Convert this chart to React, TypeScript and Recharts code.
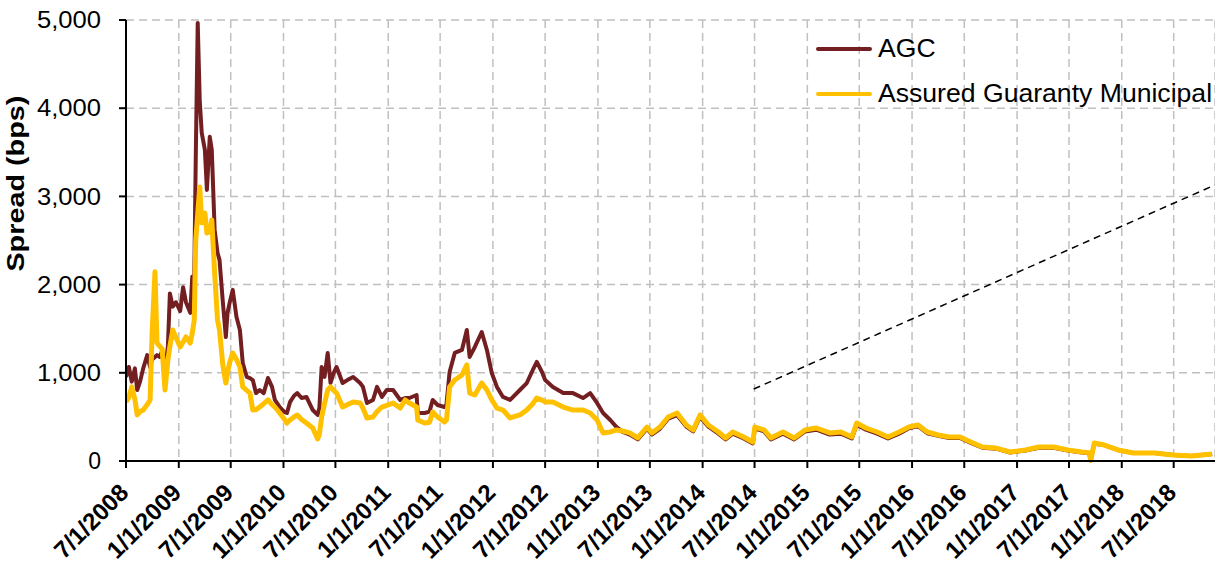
import React from 'react';
import { LineChart, Line, XAxis, YAxis, CartesianGrid, ReferenceLine } from 'recharts';

const dates = [
  '2008-07-01','2008-07-11','2008-07-21','2008-08-01','2008-08-09','2008-08-19','2008-08-30','2008-09-13','2008-09-23','2008-09-30',
  '2008-10-10','2008-10-17','2008-10-27','2008-11-04','2008-11-14','2008-11-24','2008-12-01','2008-12-11','2008-12-22','2009-01-06',
  '2009-01-16','2009-01-26','2009-02-10','2009-02-17','2009-02-24','2009-03-01','2009-03-08','2009-03-15','2009-03-22','2009-04-02',
  '2009-04-09','2009-04-19','2009-04-26','2009-05-06','2009-05-16','2009-05-23','2009-06-03','2009-06-14','2009-06-20','2009-06-27',
  '2009-07-08','2009-07-21','2009-08-02','2009-08-12','2009-08-26','2009-09-06','2009-09-16','2009-09-27','2009-10-10','2009-10-24',
  '2009-11-08','2009-11-22','2009-12-02','2009-12-19','2010-01-03','2010-01-13','2010-01-24','2010-02-07','2010-02-18','2010-03-05',
  '2010-03-22','2010-04-13','2010-04-30','2010-05-06','2010-05-14','2010-05-24','2010-06-04','2010-06-14','2010-06-25','2010-07-05',
  '2010-07-26','2010-08-13','2010-09-01','2010-09-25','2010-10-05','2010-10-19','2010-11-09','2010-11-23','2010-12-10','2010-12-27',
  '2011-01-18','2011-02-12','2011-03-01','2011-03-16','2011-04-10','2011-04-14','2011-05-08','2011-05-25','2011-06-05','2011-06-22',
  '2011-07-16','2011-07-23','2011-08-03','2011-08-21','2011-09-15','2011-10-02','2011-10-12','2011-10-30','2011-11-23','2011-12-11',
  '2011-12-28','2012-01-15','2012-02-05','2012-03-01','2012-04-04','2012-04-28','2012-05-19','2012-06-02','2012-06-20','2012-07-01',
  '2012-07-28','2012-09-02','2012-10-06','2012-11-10','2012-12-05','2012-12-29','2013-01-19','2013-02-13','2013-03-07','2013-03-28',
  '2013-04-22','2013-05-20','2013-06-21','2013-07-08','2013-08-05','2013-09-03','2013-10-04','2013-11-05','2013-11-29','2013-12-23',
  '2014-01-21','2014-02-25','2014-03-22','2014-04-16','2014-05-24','2014-06-25','2014-07-02','2014-08-03','2014-08-27','2014-10-08',
  '2014-11-16','2014-12-24','2015-02-01','2015-03-20','2015-04-28','2015-06-05','2015-06-22','2015-07-24','2015-09-01','2015-10-09',
  '2015-11-17','2015-12-21','2016-01-22','2016-02-23','2016-04-01','2016-05-09','2016-06-16','2016-07-24','2016-09-02','2016-10-20',
  '2016-12-08','2017-01-30','2017-03-18','2017-05-09','2017-06-27','2017-08-15','2017-09-09','2017-09-15','2017-09-27','2017-11-01',
  '2017-12-19','2018-02-10','2018-04-26','2018-06-28','2018-09-01','2018-11-12',
];

const agcSpread = [
  953,1066,900,1050,805,900,1050,1200,1066,1150,
  1180,1200,1180,1250,1000,1300,1900,1750,1800,1700,
  1970,1800,1680,2090,2100,3400,4967,4090,3720,3527,
  3073,3675,3527,2620,2360,2280,1825,1406,1680,1790,
  1940,1635,1485,1111,953,940,918,770,805,770,
  941,840,692,612,560,544,670,740,770,714,
  726,578,522,600,1066,953,1225,884,1000,1066,
  884,920,953,884,840,658,692,840,726,805,
  805,692,714,714,748,544,544,560,692,635,
  612,640,1009,1225,1259,1485,1180,1293,1463,1259,
  998,840,726,692,805,884,1032,1123,1009,918,
  840,770,770,714,770,658,544,465,385,330,
  300,245,365,300,365,480,520,390,335,500,
  390,310,245,310,255,200,370,335,245,310,
  245,335,355,300,310,255,410,355,310,255,
  310,370,395,315,285,260,262,205,150,140,
  95,118,150,150,118,95,90,10,195,180,
  125,91,91,68,57,80,
];

const agmSpread = [
  670,720,840,700,522,560,578,640,692,1450,
  2145,1338,1300,1270,805,1145,1300,1485,1400,1293,
  1350,1406,1338,1450,1600,2500,2800,3107,2700,2810,
  2585,2600,2733,2132,1600,1485,1100,884,1000,1111,
  1225,1150,1066,840,800,770,578,580,612,650,
  692,640,612,544,480,430,465,500,522,470,
  430,374,250,300,499,650,805,840,800,770,
  612,640,670,658,600,488,499,560,612,630,
  658,600,692,658,612,465,430,440,556,500,
  442,465,840,918,975,1089,770,748,884,805,
  692,600,578,488,522,578,650,714,690,670,
  670,612,578,578,544,465,318,329,352,340,
  318,261,385,318,385,499,544,408,352,522,
  408,329,261,329,272,215,385,352,261,329,
  261,352,374,318,329,272,430,374,329,272,
  329,385,408,329,295,272,272,215,159,147,
  102,125,159,159,125,102,95,5,204,181,
  125,91,91,68,57,80,
];

const seriesNames = ['AGC', 'Assured Guaranty Municipal'];
const seriesColors = ['#731f22', '#ffc000'];
const xTickLabels = [
  '7/1/2008','1/1/2009','7/1/2009','1/1/2010','7/1/2010','1/1/2011','7/1/2011','1/1/2012','7/1/2012','1/1/2013','7/1/2013',
  '1/1/2014','7/1/2014','1/1/2015','7/1/2015','1/1/2016','7/1/2016','1/1/2017','7/1/2017','1/1/2018','7/1/2018',
];
const yTicks = [0, 1000, 2000, 3000, 4000, 5000];
const yAxisTitle = 'Spread (bps)';
const xDomainStart = '7/1/2008';
const xDomainEnd = '11/22/2018';
const annotationFrom = { date: '6/28/2014', value: 816 };
const annotationTo = { date: '11/22/2018', value: 3130 };

const parseMDY = (s: string) => {
  const [m, d, y] = s.split('/').map(Number);
  return Date.UTC(y, m - 1, d);
};
const parseISO = (s: string) => {
  const [y, m, d] = s.split('-').map(Number);
  return Date.UTC(y, m - 1, d);
};

const data = dates.map((d, i) => ({ t: parseISO(d), agc: agcSpread[i], agm: agmSpread[i] }));
const xTicks = xTickLabels.map(parseMDY);
const labelByTick = new Map(xTicks.map((t, i) => [t, xTickLabels[i]]));

const FONT = '"Liberation Sans", Arial, sans-serif';

const XTick = (props: any) => {
  const { x, y, payload } = props;
  return (
    <g transform={`translate(${x + 4},${y + 24})`}>
      <text
        textAnchor="end"
        transform="rotate(-45)"
        fontFamily={FONT}
        fontWeight="bold"
        fontSize={24}
        fill="#000"
      >
        {labelByTick.get(payload.value)}
      </text>
    </g>
  );
};

const YTick = (props: any) => {
  const { x, y, payload } = props;
  const label = Number(payload.value).toLocaleString('en-US');
  const wide = label.length > 1;
  return (
    <text
      x={x}
      y={y}
      dy="0.36em"
      textAnchor="end"
      fontFamily={FONT}
      fontSize={23}
      fill="#000"
      {...(wide ? { textLength: 64, lengthAdjust: 'spacingAndGlyphs' } : {})}
    >
      {label}
    </text>
  );
};

const YLabel = (props: any) => {
  const { viewBox } = props;
  const cx = 24;
  const cy = viewBox.y + viewBox.height * 0.371;
  return (
    <text
      x={cx}
      y={cy}
      transform={`rotate(-90 ${cx} ${cy})`}
      textAnchor="middle"
      fontFamily={FONT}
      fontWeight="bold"
      fontSize={23}
      fill="#000"
      textLength={176}
      lengthAdjust="spacingAndGlyphs"
    >
      {yAxisTitle}
    </text>
  );
};

export default function App() {
  return (
    <div style={{ position: 'absolute', left: 0, top: 0, width: 1215, height: 567, background: '#fff', overflow: 'hidden' }}>
      <LineChart width={1215} height={567} data={data} margin={{ top: 20, right: 0, bottom: 0, left: 0 }}>
        <CartesianGrid stroke="#c0c0c0" strokeDasharray="8 5" strokeWidth={1.5} />
        <XAxis
          dataKey="t"
          type="number"
          domain={[parseMDY(xDomainStart), parseMDY(xDomainEnd)]}
          ticks={xTicks}
          interval={0}
          allowDataOverflow
          height={106}
          tickSize={7}
          tick={<XTick />}
          axisLine={{ stroke: '#000', strokeWidth: 2 }}
          tickLine={{ stroke: '#000', strokeWidth: 2 }}
        />
        <YAxis
          type="number"
          domain={[0, 5000]}
          ticks={yTicks}
          interval={0}
          width={126}
          tickSize={7}
          tickMargin={18}
          tick={<YTick />}
          axisLine={{ stroke: '#000', strokeWidth: 2 }}
          tickLine={{ stroke: '#000', strokeWidth: 2 }}
          label={<YLabel />}
        />
        <Line
          dataKey="agc"
          name={seriesNames[0]}
          stroke={seriesColors[0]}
          strokeWidth={4}
          dot={false}
          type="linear"
          strokeLinejoin="round"
          isAnimationActive={false}
        />
        <Line
          dataKey="agm"
          name={seriesNames[1]}
          stroke={seriesColors[1]}
          strokeWidth={5}
          dot={false}
          type="linear"
          strokeLinejoin="round"
          isAnimationActive={false}
        />
        <ReferenceLine
          segment={[
            { x: parseMDY(annotationFrom.date), y: annotationFrom.value },
            { x: parseMDY(annotationTo.date), y: annotationTo.value },
          ]}
          stroke="#000"
          strokeWidth={1.5}
          strokeDasharray="7 5"
          ifOverflow="visible"
        />
      </LineChart>
      <div style={{ position: 'absolute', left: 816, top: 26, fontFamily: FONT, fontSize: 26.6, color: '#000' }}>
        {seriesNames.map((name, i) => (
          <div key={name} style={{ display: 'flex', alignItems: 'center', height: 45, whiteSpace: 'nowrap' }}>
            <span style={{ display: 'inline-block', width: 56, height: 4, borderRadius: 2, background: seriesColors[i], marginRight: 6 }} />
            <span>{name}</span>
          </div>
        ))}
      </div>
    </div>
  );
}
